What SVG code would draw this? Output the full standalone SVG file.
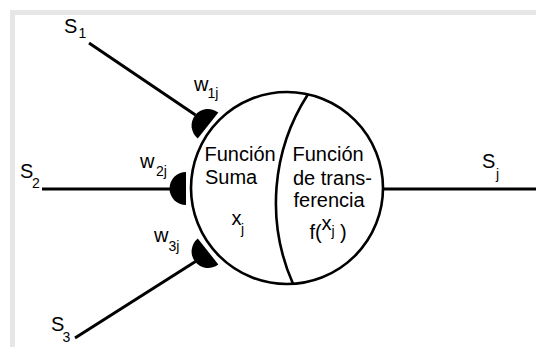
<svg xmlns="http://www.w3.org/2000/svg" width="536" height="347" viewBox="0 0 536 347">
<style>
  text { font-family: "Liberation Sans", Arial, sans-serif; fill: #000; }
  .m { font-size: 20px; }
  .s { font-size: 14px; }
  .ln { stroke: #000; stroke-width: 3; fill: none; }
  .body { stroke: #000; stroke-width: 2.6; fill: #fff; }
  .div { stroke: #000; stroke-width: 2.6; fill: none; }
  .syn { fill: #000; }
</style>
<defs>
  <path id="synapse" d="M186,172 A16.5,16.5 0 0 0 186,205 Z"/>
</defs>
<rect x="0" y="0" width="536" height="347" fill="#fff"/>
<rect x="12.5" y="12.5" width="600" height="400" fill="#fff" stroke="#e6e6e6" stroke-width="5"/>

<g id="connectors">
  <line class="ln" x1="89" y1="43" x2="195.5" y2="115"/>
  <line class="ln" x1="42" y1="189" x2="172" y2="189"/>
  <line class="ln" x1="75" y1="338" x2="195.5" y2="261.5"/>
  <line class="ln" x1="383" y1="189" x2="536" y2="189"/>
</g>

<g id="neuron">
  <circle class="body" cx="287" cy="188" r="96"/>
  <path class="div" d="M308,94.3 A200,200 0 0 0 293,283.8"/>
  <text class="m" x="204.5" y="161">Función</text>
  <text class="m" x="205" y="184">Suma</text>
  <text class="m" x="231.5" y="225">x<tspan class="s" x="241" y="234">j</tspan></text>
  <text class="m" x="292.5" y="161">Función</text>
  <text class="m" x="293" y="185">de trans-</text>
  <text class="m" x="293.5" y="207">ferencia</text>
  <text class="m" x="309.5" y="239">f(<tspan x="321.5" y="230">x</tspan><tspan class="s" x="331.5" y="236">j</tspan><tspan x="340" y="239">)</tspan></text>
</g>

<g id="synapse1">
  <use href="#synapse" class="syn" transform="rotate(38.6 287 188.5)"/>
  <text class="m" x="194" y="91">w<tspan class="s" x="207.5" y="97.5">1j</tspan></text>
</g>
<g id="synapse2">
  <use href="#synapse" class="syn"/>
  <text class="m" x="140" y="167.7">w<tspan class="s" x="156" y="176">2j</tspan></text>
</g>
<g id="synapse3">
  <use href="#synapse" class="syn" transform="rotate(-38.6 287 188.5)"/>
  <text class="m" x="154" y="241.7">w<tspan class="s" x="168.5" y="250.5">3j</tspan></text>
</g>

<g id="input1">
  <text class="m" x="64" y="33.3">S<tspan class="s" x="78.5" y="37.7">1</tspan></text>
</g>
<g id="input2">
  <text class="m" x="20" y="178.3">S<tspan class="s" x="32" y="188">2</tspan></text>
</g>
<g id="input3">
  <text class="m" x="51" y="331">S<tspan class="s" x="62.5" y="341.5">3</tspan></text>
</g>
<g id="output">
  <text class="m" x="482" y="168">S<tspan class="s" x="496" y="178.5">j</tspan></text>
</g>
</svg>
